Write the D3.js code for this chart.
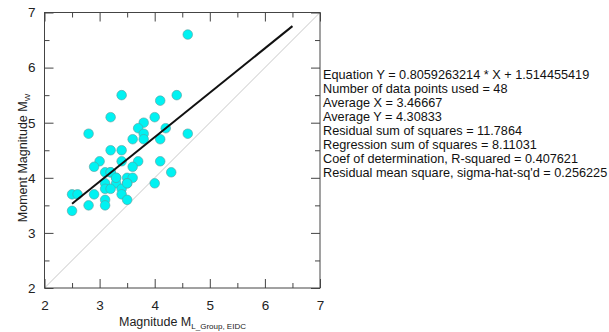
<!DOCTYPE html>
<html>
<head>
<meta charset="utf-8">
<script src="https://cdn.jsdelivr.net/npm/d3@7"></script>
<style>
  html, body { margin: 0; padding: 0; background: #fff; }
  svg { display: block; font-family: "Liberation Sans", Arial, sans-serif; }
  .axis line { stroke: #444; }
  .axis text { fill: #222; font-size: 13.5px; }
  .stats text { fill: #111; font-size: 12.7px; }
  .axis-label { fill: #222; font-size: 12.5px; }
</style>
</head>
<body>
<svg id="chart" width="609" height="332"></svg>
<script>
// Magnitude M_L (x) vs moment magnitude M_W (y)
const magL = [4.6, 3.4, 4.1, 4.4, 3.2, 4.0, 3.8, 3.7, 4.2, 3.8,
              2.8, 4.6, 3.6, 3.8, 4.1, 3.2, 3.4, 3.0, 3.4, 3.7,
              4.1, 2.9, 3.6, 3.1, 3.2, 4.3, 3.3, 3.5, 3.6, 3.1,
              3.3, 3.5, 4.0, 3.1, 3.2, 3.4, 2.5, 2.6, 2.9, 3.4,
              3.1, 3.5, 2.8, 3.1, 2.5, 3.2, 3.3, 3.5];
const magW = [6.6, 5.5, 5.4, 5.5, 5.1, 5.1, 5.0, 4.9, 4.9, 4.8,
              4.8, 4.8, 4.7, 4.7, 4.7, 4.5, 4.5, 4.3, 4.3, 4.3,
              4.3, 4.2, 4.2, 4.1, 4.1, 4.1, 4.0, 4.0, 4.0, 3.9,
              3.9, 3.9, 3.9, 3.8, 3.8, 3.8, 3.7, 3.7, 3.7, 3.7,
              3.6, 3.6, 3.5, 3.5, 3.4, 4.1, 4.0, 3.9];

const slope = 0.8059263214;
const intercept = 1.514455419;
const fitRange = [2.5, 6.5];

const majorTicks = [2, 3, 4, 5, 6, 7];
const minorTicks = [2.5, 3.5, 4.5, 5.5, 6.5];

const statLines = [
  'Equation Y = 0.8059263214 * X + 1.514455419',
  'Number of data points used = 48',
  'Average X = 3.46667',
  'Average Y = 4.30833',
  'Residual sum of squares = 11.7864',
  'Regression sum of squares = 8.11031',
  'Coef of determination, R-squared = 0.407621',
  "Residual mean square, sigma-hat-sq'd = 0.256225"
];

const svg = d3.select('#chart');
const x = d3.scaleLinear().domain([2, 7]).range([44.5, 320]);
const y = d3.scaleLinear().domain([2, 7]).range([288, 12.5]);

// 1:1 reference line
svg.append('line')
  .attr('x1', x(2)).attr('y1', y(2))
  .attr('x2', x(7)).attr('y2', y(7))
  .attr('stroke', '#c8c8c8').attr('stroke-width', 1);

// points
svg.append('g').selectAll('circle')
  .data(d3.zip(magL, magW))
  .join('circle')
  .attr('cx', d => x(d[0]))
  .attr('cy', d => y(d[1]))
  .attr('r', 4.8)
  .attr('fill', '#00f2f2')
  .attr('stroke', '#5c9c9c')
  .attr('stroke-width', 0.6);

// regression line
svg.append('path')
  .datum(fitRange)
  .attr('d', d3.line().x(d => x(d)).y(d => y(slope * d + intercept)))
  .attr('stroke', '#111')
  .attr('stroke-width', 2)
  .attr('fill', 'none');

// frame
svg.append('rect')
  .attr('x', x(2)).attr('y', y(7))
  .attr('width', x(7) - x(2)).attr('height', y(2) - y(7))
  .attr('fill', 'none').attr('stroke', '#444').attr('stroke-width', 1);

// axes, ticks pointing inward on all sides
function addAxis(gen, tx, ty, vals, size, pad, labels) {
  const g = svg.append('g')
    .attr('class', 'axis')
    .attr('transform', `translate(${tx},${ty})`)
    .call(gen.tickValues(vals).tickSize(size).tickSizeOuter(0).tickPadding(pad)
      .tickFormat(labels ? d3.format('d') : () => ''));
  g.select('.domain').remove();
  return g;
}

addAxis(d3.axisBottom(x), 0, y(2), majorTicks, -9, 12, true);
addAxis(d3.axisBottom(x), 0, y(2), minorTicks, -5, 12, false);
addAxis(d3.axisLeft(y), x(2), 0, majorTicks, -9, 9, true);
addAxis(d3.axisLeft(y), x(2), 0, minorTicks, -5, 9, false);
addAxis(d3.axisTop(x), 0, y(7), majorTicks, -9, 0, false);
addAxis(d3.axisTop(x), 0, y(7), minorTicks, -5, 0, false);
addAxis(d3.axisRight(y), x(7), 0, majorTicks, -9, 0, false);
addAxis(d3.axisRight(y), x(7), 0, minorTicks, -5, 0, false);

// axis labels
const xl = svg.append('text')
  .attr('class', 'axis-label')
  .attr('x', 119).attr('y', 326);
xl.append('tspan').text('Magnitude M');
xl.append('tspan').attr('dy', 3).attr('font-size', '8px').text('L_Group, EIDC');

const yl = svg.append('text')
  .attr('class', 'axis-label')
  .attr('transform', 'translate(27,158) rotate(-90)')
  .attr('text-anchor', 'middle');
yl.append('tspan').text('Moment Magnitude M');
yl.append('tspan').attr('dy', 3).attr('font-size', '8px').text('W');

// regression statistics
svg.append('g')
  .attr('class', 'stats')
  .selectAll('text')
  .data(statLines)
  .join('text')
  .attr('x', 323)
  .attr('y', (d, i) => 79 + i * 14)
  .text(d => d);
</script>
</body>
</html>
